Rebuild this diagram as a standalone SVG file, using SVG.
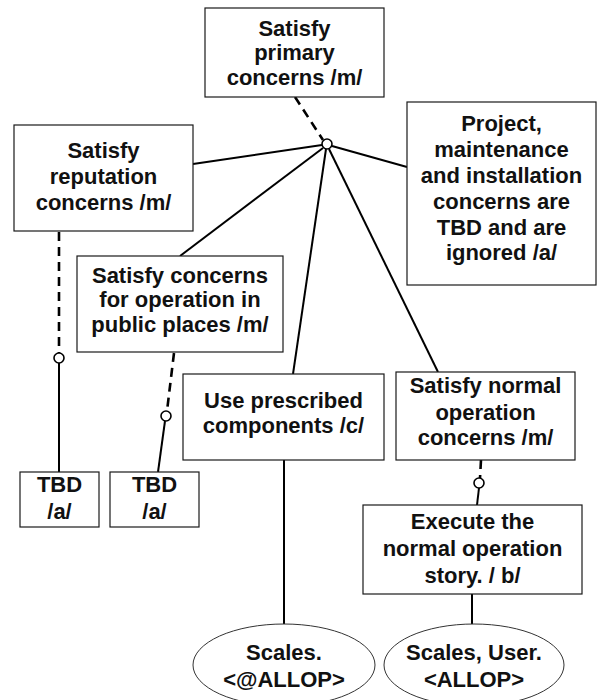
<svg xmlns="http://www.w3.org/2000/svg" width="600" height="700" viewBox="0 0 600 700">
<style>
.box{fill:#fff;stroke:#1a1a1a;stroke-width:1.2}
.ell{fill:#fff;stroke:#333;stroke-width:1}
.t{font-family:"Liberation Sans",Arial,sans-serif;font-weight:bold;font-size:22px;fill:#111;text-anchor:middle}
.ln{stroke:#000;stroke-width:2;fill:none}
.dl{stroke:#000;stroke-width:2.6;fill:none;stroke-dasharray:9 6}
.dot{fill:#fff;stroke:#000;stroke-width:1.6}
</style>
<rect width="600" height="700" fill="#fff"/>
<g id="connectors">
<line class="dl" x1="295" y1="97" x2="323" y2="140"/>
<line class="ln" x1="193" y1="164" x2="322" y2="145"/>
<line class="ln" x1="332" y1="146" x2="407" y2="167"/>
<line class="ln" x1="323" y1="148" x2="180" y2="256"/>
<line class="ln" x1="326" y1="149" x2="293" y2="374"/>
<line class="ln" x1="329" y1="149" x2="438" y2="372"/>
<line class="dl" x1="59" y1="232" x2="59" y2="353"/>
<line class="ln" x1="59" y1="363" x2="59" y2="472"/>
<line class="dl" x1="174" y1="353" x2="167" y2="411"/>
<line class="ln" x1="165" y1="421" x2="158" y2="472"/>
<line class="dl" x1="481" y1="460" x2="480" y2="478"/>
<line class="ln" x1="479" y1="488" x2="477" y2="505"/>
<line class="ln" x1="284" y1="460" x2="284" y2="624"/>
<line class="ln" x1="472" y1="594" x2="472" y2="624"/>
<circle class="dot" cx="327" cy="144" r="5"/>
<circle class="dot" cx="59" cy="358" r="5"/>
<circle class="dot" cx="166" cy="416" r="5"/>
<circle class="dot" cx="479" cy="483" r="5"/>
</g>
<g id="n-primary">
<rect class="box" x="205" y="8" width="179" height="89"/>
<text class="t" x="294.5" y="36">Satisfy</text>
<text class="t" x="294.5" y="60">primary</text>
<text class="t" x="294.5" y="85">concerns /m/</text>
</g>
<g id="n-reputation">
<rect class="box" x="14" y="125" width="179" height="106"/>
<text class="t" x="103.5" y="158">Satisfy</text>
<text class="t" x="103.5" y="184">reputation</text>
<text class="t" x="103.5" y="210">concerns /m/</text>
</g>
<g id="n-project">
<rect class="box" x="407" y="102" width="189" height="183"/>
<text class="t" x="501.5" y="131">Project,</text>
<text class="t" x="501.5" y="157">maintenance</text>
<text class="t" x="501.5" y="183">and installation</text>
<text class="t" x="501.5" y="209">concerns are</text>
<text class="t" x="501.5" y="235">TBD and are</text>
<text class="t" x="501.5" y="260">ignored  /a/</text>
</g>
<g id="n-public">
<rect class="box" x="77" y="256" width="206" height="96"/>
<text class="t" x="180" y="283">Satisfy concerns</text>
<text class="t" x="180" y="307">for operation in</text>
<text class="t" x="180" y="332">public places /m/</text>
</g>
<g id="n-tbd1">
<rect class="box" x="20" y="472" width="79" height="55"/>
<text class="t" x="59.5" y="492">TBD</text>
<text class="t" x="59.5" y="519">/a/</text>
</g>
<g id="n-tbd2">
<rect class="box" x="110" y="472" width="89" height="55"/>
<text class="t" x="154.5" y="492">TBD</text>
<text class="t" x="154.5" y="519">/a/</text>
</g>
<g id="n-use">
<rect class="box" x="183" y="374" width="201" height="86"/>
<text class="t" x="283.5" y="408">Use prescribed</text>
<text class="t" x="283.5" y="433">components /c/</text>
</g>
<g id="n-normal">
<rect class="box" x="396" y="372" width="179" height="88"/>
<text class="t" x="485.5" y="393">Satisfy normal</text>
<text class="t" x="485.5" y="420">operation</text>
<text class="t" x="485.5" y="445">concerns /m/</text>
</g>
<g id="n-execute">
<rect class="box" x="363" y="505" width="219" height="89"/>
<text class="t" x="472.5" y="529">Execute the</text>
<text class="t" x="472.5" y="556">normal operation</text>
<text class="t" x="472.5" y="583">story. / b/</text>
</g>
<g id="n-scales">
<ellipse class="ell" cx="284" cy="665" rx="91" ry="41"/>
<text class="t" x="284" y="660">Scales.</text>
<text class="t" x="284" y="687">&lt;@ALLOP&gt;</text>
</g>
<g id="n-scales-user">
<ellipse class="ell" cx="474" cy="665" rx="90" ry="41"/>
<text class="t" x="474" y="660">Scales, User.</text>
<text class="t" x="474" y="687">&lt;ALLOP&gt;</text>
</g>
</svg>
